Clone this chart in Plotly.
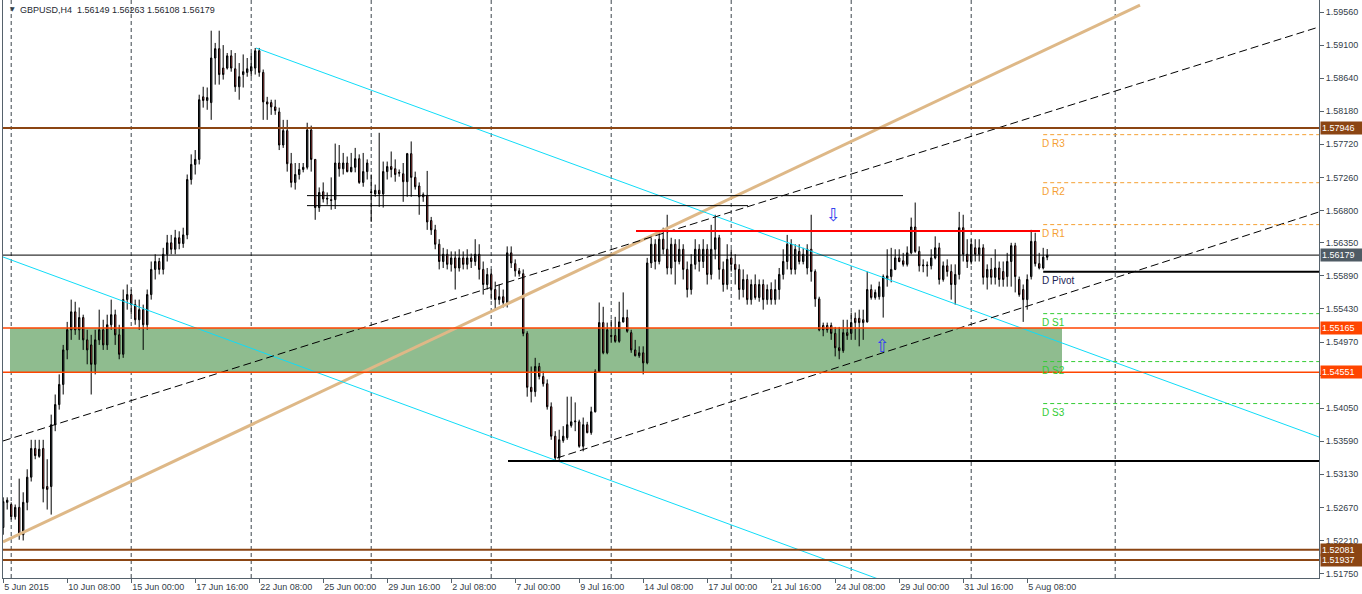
import plotly.graph_objects as go

# ---------------- DATA (GBPUSD H4, bar index 0 = 5 Jun 2015 16:00) ----------------
opens = [
 1.5239,1.5274,1.5271,1.5254,1.5267,1.5229,1.5274,1.5309,1.5349,1.5338,
 1.5349,1.5296,1.5296,1.5382,1.5410,1.5438,1.5486,1.5514,1.5539,1.5514,
 1.5531,1.5500,1.5493,1.5466,1.5500,1.5514,1.5493,1.5521,1.5535,1.5507,
 1.5480,1.5556,1.5563,1.5549,1.5528,1.5542,1.5521,1.5563,1.5598,1.5609,
 1.5598,1.5619,1.5635,1.5626,1.5642,1.5634,1.5646,1.5723,1.5744,1.5751,
 1.5838,1.5833,1.5830,1.5892,1.5905,1.5878,1.5878,1.5895,1.5877,1.5852,
 1.5869,1.5872,1.5874,1.5878,1.5902,1.5872,1.5831,1.5830,1.5824,1.5817,
 1.5771,1.5791,1.5745,1.5719,1.5730,1.5737,1.5740,1.5792,1.5751,1.5684,
 1.5706,1.5697,1.5695,1.5695,1.5746,1.5738,1.5746,1.5734,1.5740,1.5752,
 1.5719,1.5734,1.5706,1.5703,1.5708,1.5703,1.5734,1.5741,1.5738,1.5733,
 1.5731,1.5720,1.5759,1.5726,1.5714,1.5702,1.5701,1.5666,1.5653,1.5633,
 1.5609,1.5619,1.5605,1.5614,1.5600,1.5614,1.5605,1.5614,1.5609,1.5619,
 1.5598,1.5577,1.5591,1.5570,1.5556,1.5560,1.5552,1.5621,1.5606,1.5596,
 1.5592,1.5509,1.5434,1.5428,1.5463,1.5449,1.5439,1.5407,1.5366,1.5336,
 1.5360,1.5364,1.5381,1.5386,1.5386,1.5352,1.5382,1.5371,1.5400,1.5456,
 1.5524,1.5482,1.5506,1.5506,1.5498,1.5525,1.5531,1.5510,1.5486,1.5478,
 1.5482,1.5468,1.5607,1.5633,1.5609,1.5640,1.5626,1.5600,1.5633,1.5609,
 1.5626,1.5598,1.5570,1.5605,1.5626,1.5609,1.5626,1.5591,1.5626,1.5642,
 1.5598,1.5577,1.5614,1.5605,1.5598,1.5570,1.5584,1.5556,1.5577,1.5559,
 1.5577,1.5556,1.5570,1.5556,1.5570,1.5591,1.5609,1.5633,1.5598,1.5623,
 1.5609,1.5600,1.5626,1.5595,1.5557,1.5520,1.5520,1.5520,1.5509,1.5489,
 1.5485,1.5510,1.5509,1.5530,1.5530,1.5528,1.5525,1.5570,1.5559,1.5560,
 1.5560,1.5585,1.5588,1.5598,1.5614,1.5610,1.5605,1.5621,1.5657,1.5623,
 1.5603,1.5603,1.5603,1.5614,1.5628,1.5584,1.5603,1.5595,1.5577,1.5591,
 1.5656,1.5619,1.5609,1.5628,1.5619,1.5628,1.5587,1.5598,1.5587,1.5600,
 1.5595,1.5588,1.5609,1.5631,1.5584,1.5570,1.5556,1.5588,1.5637,1.5606,
 1.5600,1.56149]
highs = [
 1.5281,1.5281,1.5274,1.5271,1.5307,1.5288,1.5320,1.5361,1.5361,1.5361,
 1.5361,1.5334,1.5396,1.5424,1.5452,1.5493,1.5525,1.5556,1.5553,1.5545,
 1.5535,1.5514,1.5507,1.5514,1.5542,1.5528,1.5535,1.5556,1.5542,1.5521,
 1.5570,1.5577,1.5570,1.5556,1.5556,1.5549,1.5570,1.5609,1.5619,1.5614,
 1.5628,1.5646,1.5646,1.5653,1.5651,1.5656,1.5730,1.5758,1.5764,1.5841,
 1.5852,1.5851,1.5930,1.5913,1.5930,1.5910,1.5899,1.5903,1.5899,1.5885,
 1.5897,1.5892,1.5899,1.5906,1.5906,1.5876,1.5838,1.5834,1.5834,1.5823,
 1.5806,1.5806,1.5760,1.5746,1.5746,1.5746,1.5802,1.5798,1.5751,1.5712,
 1.5719,1.5705,1.5726,1.5773,1.5771,1.5760,1.5755,1.5760,1.5767,1.5758,
 1.5760,1.5751,1.5730,1.5716,1.5788,1.5748,1.5748,1.5762,1.5751,1.5737,
 1.5746,1.5760,1.5776,1.5734,1.5719,1.5705,1.5735,1.5671,1.5660,1.5640,
 1.5628,1.5626,1.5623,1.5623,1.5626,1.5623,1.5626,1.5620,1.5640,1.5633,
 1.5609,1.5600,1.5598,1.5581,1.5577,1.5570,1.5630,1.5630,1.5612,1.5600,
 1.5598,1.5512,1.5463,1.5475,1.5468,1.5456,1.5445,1.5413,1.5373,1.5375,
 1.5380,1.5421,1.5421,1.5413,1.5389,1.5392,1.5386,1.5407,1.5459,1.5552,
 1.5546,1.5524,1.5528,1.5532,1.5553,1.5566,1.5542,1.5514,1.5500,1.5491,
 1.5491,1.5614,1.5642,1.5640,1.5651,1.5656,1.5674,1.5642,1.5640,1.5640,
 1.5633,1.5609,1.5619,1.5640,1.5633,1.5640,1.5633,1.5660,1.5674,1.5646,
 1.5609,1.5633,1.5626,1.5619,1.5605,1.5598,1.5591,1.5584,1.5591,1.5584,
 1.5584,1.5577,1.5580,1.5584,1.5600,1.5626,1.5646,1.5640,1.5633,1.5633,
 1.5628,1.5633,1.5674,1.5598,1.5560,1.5524,1.5524,1.5524,1.5518,1.5518,
 1.5528,1.5528,1.5538,1.5538,1.5542,1.5542,1.5595,1.5577,1.5570,1.5581,
 1.5591,1.5626,1.5628,1.5626,1.5626,1.5621,1.5630,1.5670,1.5691,1.5630,
 1.5612,1.5609,1.5626,1.5644,1.5635,1.5609,1.5612,1.5605,1.5605,1.5678,
 1.5674,1.5640,1.5640,1.5640,1.5640,1.5633,1.5605,1.5614,1.5626,1.5609,
 1.5609,1.5621,1.5635,1.5635,1.5588,1.5577,1.5591,1.5653,1.5649,1.5621,
 1.5628,1.56263]
lows = [
 1.5229,1.5264,1.5250,1.5250,1.5222,1.5221,1.5263,1.5303,1.5334,1.5336,
 1.5274,1.5264,1.5257,1.5373,1.5403,1.5424,1.5473,1.5500,1.5507,1.5500,
 1.5486,1.5466,1.5424,1.5452,1.5493,1.5486,1.5486,1.5514,1.5493,1.5473,
 1.5475,1.5542,1.5535,1.5521,1.5514,1.5486,1.5514,1.5556,1.5584,1.5591,
 1.5591,1.5609,1.5619,1.5619,1.5626,1.5628,1.5640,1.5716,1.5730,1.5744,
 1.5823,1.5820,1.5806,1.5855,1.5855,1.5862,1.5876,1.5873,1.5845,1.5834,
 1.5851,1.5866,1.5866,1.5869,1.5866,1.5806,1.5806,1.5813,1.5813,1.5764,
 1.5767,1.5734,1.5712,1.5709,1.5723,1.5733,1.5737,1.5734,1.5667,1.5678,
 1.5691,1.5688,1.5681,1.5682,1.5727,1.5730,1.5733,1.5733,1.5733,1.5717,
 1.5713,1.5723,1.5664,1.5699,1.5685,1.5684,1.5723,1.5726,1.5720,1.5727,
 1.5692,1.5699,1.5699,1.5709,1.5674,1.5692,1.5653,1.5646,1.5626,1.5598,
 1.5600,1.5598,1.5595,1.5570,1.5595,1.5598,1.5598,1.5600,1.5603,1.5584,
 1.5563,1.5570,1.5556,1.5542,1.5549,1.5545,1.5545,1.5600,1.5588,1.5588,
 1.5505,1.5421,1.5413,1.5421,1.5445,1.5435,1.5403,1.5361,1.5332,1.5331,
 1.5357,1.5361,1.5378,1.5373,1.5350,1.5345,1.5370,1.5368,1.5399,1.5455,
 1.5480,1.5480,1.5496,1.5496,1.5496,1.5524,1.5510,1.5482,1.5477,1.5475,
 1.5452,1.5466,1.5600,1.5598,1.5605,1.5619,1.5591,1.5591,1.5577,1.5605,
 1.5584,1.5559,1.5563,1.5598,1.5595,1.5600,1.5577,1.5584,1.5612,1.5584,
 1.5567,1.5570,1.5595,1.5577,1.5556,1.5559,1.5549,1.5549,1.5556,1.5553,
 1.5542,1.5549,1.5549,1.5549,1.5556,1.5584,1.5598,1.5591,1.5591,1.5605,
 1.5605,1.5591,1.5581,1.5546,1.5512,1.5505,1.5510,1.5500,1.5477,1.5473,
 1.5482,1.5500,1.5500,1.5500,1.5491,1.5500,1.5524,1.5556,1.5556,1.5556,
 1.5531,1.5574,1.5580,1.5597,1.5608,1.5602,1.5602,1.5619,1.5621,1.5595,
 1.5594,1.5588,1.5598,1.5612,1.5577,1.5581,1.5588,1.5556,1.5549,1.5584,
 1.5609,1.5600,1.5605,1.5609,1.5609,1.5577,1.5570,1.5577,1.5577,1.5574,
 1.5574,1.5574,1.5574,1.5566,1.5560,1.5525,1.5542,1.5584,1.5602,1.5598,
 1.5598,1.56108]
closes = [
 1.5275,1.5277,1.5254,1.5267,1.5229,1.5274,1.5309,1.5349,1.5339,1.5348,
 1.5293,1.5292,1.5382,1.5410,1.5438,1.5486,1.5514,1.5539,1.5514,1.5531,
 1.5500,1.5486,1.5466,1.5500,1.5514,1.5493,1.5521,1.5535,1.5507,1.5480,
 1.5556,1.5563,1.5549,1.5528,1.5542,1.5521,1.5563,1.5598,1.5609,1.5598,
 1.5619,1.5635,1.5626,1.5642,1.5634,1.5646,1.5723,1.5744,1.5751,1.5834,
 1.5833,1.5837,1.5892,1.5905,1.5869,1.5869,1.5895,1.5878,1.5852,1.5866,
 1.5873,1.5877,1.5880,1.5902,1.5872,1.5831,1.5828,1.5824,1.5819,1.5771,
 1.5791,1.5745,1.5719,1.5730,1.5737,1.5740,1.5792,1.5751,1.5684,1.5705,
 1.5696,1.5696,1.5694,1.5746,1.5738,1.5746,1.5734,1.5740,1.5752,1.5719,
 1.5734,1.5746,1.5705,1.5708,1.5703,1.5734,1.5741,1.5737,1.5730,1.5732,
 1.5720,1.5759,1.5726,1.5713,1.5699,1.5699,1.5664,1.5653,1.5633,1.5609,
 1.5619,1.5605,1.5614,1.5600,1.5614,1.5605,1.5614,1.5609,1.5619,1.5598,
 1.5577,1.5591,1.5570,1.5556,1.5560,1.5552,1.5621,1.5607,1.5596,1.5592,
 1.5509,1.5434,1.5428,1.5463,1.5449,1.5439,1.5407,1.5366,1.5336,1.5361,
 1.5366,1.5382,1.5386,1.5387,1.5352,1.5382,1.5371,1.5400,1.5456,1.5524,
 1.5482,1.5514,1.5505,1.5498,1.5525,1.5531,1.5512,1.5486,1.5478,1.5482,
 1.5468,1.5607,1.5633,1.5609,1.5640,1.5626,1.5600,1.5633,1.5609,1.5626,
 1.5598,1.5570,1.5605,1.5626,1.5609,1.5626,1.5591,1.5626,1.5642,1.5598,
 1.5577,1.5612,1.5605,1.5598,1.5570,1.5584,1.5556,1.5577,1.5559,1.5577,
 1.5556,1.5570,1.5556,1.5570,1.5591,1.5609,1.5633,1.5598,1.5626,1.5609,
 1.5619,1.5626,1.5595,1.5557,1.5514,1.5514,1.5514,1.5509,1.5489,1.5485,
 1.5510,1.5506,1.5524,1.5524,1.5524,1.5524,1.5570,1.5559,1.5566,1.5574,
 1.5588,1.5589,1.5598,1.5614,1.5609,1.5605,1.5621,1.5657,1.5623,1.5603,
 1.5604,1.5604,1.5614,1.5628,1.5584,1.5603,1.5595,1.5577,1.5591,1.5656,
 1.5619,1.5609,1.5633,1.5619,1.5628,1.5587,1.5598,1.5587,1.5600,1.5584,
 1.5584,1.5609,1.5631,1.5588,1.5563,1.5556,1.5584,1.5637,1.5606,1.5600,
 1.5615,1.56179]
bars = list(range(len(opens)))

x_tick_bars = [0, 16, 32, 48, 64, 80, 96, 112, 128, 144, 160, 176, 192, 208, 224, 240, 256]
x_tick_text = ["5 Jun 2015", "10 Jun 08:00", "15 Jun 00:00", "17 Jun 16:00", "22 Jun 08:00",
               "25 Jun 00:00", "29 Jun 16:00", "2 Jul 08:00", "7 Jul 00:00", "9 Jul 16:00",
               "14 Jul 08:00", "17 Jul 00:00", "21 Jul 16:00", "24 Jul 08:00", "29 Jul 00:00",
               "31 Jul 16:00", "5 Aug 08:00"]
grid_bars = [2, 32, 62, 92, 122, 152, 182, 212, 242, 278]
y_tick_vals = [1.51750, 1.52210, 1.52670, 1.53130, 1.53590, 1.54050, 1.54510, 1.54970, 1.55430,
               1.55890, 1.56350, 1.56800, 1.57260, 1.57720, 1.58180, 1.58640, 1.59100, 1.59560]
y_tick_text = ["%.5f" % v for v in y_tick_vals]

title_text = "GBPUSD,H4  1.56149 1.56263 1.56108 1.56179"

brown_levels = [1.57946, 1.52081, 1.51937]
zone_levels = [1.55165, 1.54551]
zone_span = [1.7, 264.7]
bid_price = 1.56179
red_level = 1.56515
red_span = [158.2, 259.2]
support_level = 1.53316
support_start = 126.2
flat_lines = [(1.57006, 75.95, 224.95), (1.56867, 75.95, 186.2)]

pivot_names = ["D R3", "D R2", "D R1", "D Pivot", "D S1", "D S2", "D S3"]
pivot_values = [1.57854, 1.57186, 1.56603, 1.55949, 1.55365, 1.54698, 1.54114]
pivot_start = 260.0
pivot_label_bar = 259.2

tan_line = [(-0.05, 1.52189), (284.2, 1.59657)]
cyan_upper = [(63.2, 1.59059), (328.95, 1.53649)]
cyan_lower = [(-0.05, 1.56153), (224.2, 1.51563)]
dash_upper = [(-0.05, 1.53594), (328.95, 1.59352)]
dash_lower = [(138.45, 1.53357), (328.95, 1.56779)]

arrows = [("\u21e9", 207.45, 1.56745), ("\u21e7", 219.7, 1.54915)]

price_tags = [(1.57946, "#8b4513"), (1.56179, "#4f5b64"), (1.55165, "#ff4500"),
              (1.54551, "#ff4500"), (1.52081, "#8b4513"), (1.51937, "#8b4513")]

# ---------------- FIGURE ----------------
X_RANGE = [-0.05, 328.95]
Y_RANGE = [1.51688, 1.59727]
FONT = "Liberation Sans, Arial, sans-serif"
AXIS_COLOR = "#56626c"
TEXT_COLOR = "#333d47"

fig = go.Figure()
fig.add_trace(go.Candlestick(
    x=bars, open=opens, high=highs, low=lows, close=closes,
    increasing=dict(line=dict(color="#000000", width=1), fillcolor="#37414a"),
    decreasing=dict(line=dict(color="#000000", width=1), fillcolor="#e04848"),
    whiskerwidth=0, hoverinfo="skip", showlegend=False,
))

shapes = []
# green zone (background)
shapes.append(dict(type="rect", xref="x", yref="y", x0=zone_span[0], x1=zone_span[1],
                   y0=zone_levels[1], y1=zone_levels[0], fillcolor="#8fbc8f",
                   line=dict(width=0), layer="below"))
# weekly vertical grid
for b in grid_bars:
    shapes.append(dict(type="line", xref="x", yref="paper", x0=b, x1=b, y0=0, y1=1,
                       line=dict(color="#3c444c", width=1, dash="4px,3px"), layer="below"))


def seg(p0, p1, color, width, dash="solid"):
    shapes.append(dict(type="line", xref="x", yref="y", x0=p0[0], y0=p0[1], x1=p1[0], y1=p1[1],
                       line=dict(color=color, width=width, dash=dash)))


def hline(y, color, width, x0=None, x1=None, dash="solid"):
    if x0 is None:
        shapes.append(dict(type="line", xref="paper", yref="y", x0=0, x1=1, y0=y, y1=y,
                           line=dict(color=color, width=width, dash=dash)))
    else:
        shapes.append(dict(type="line", xref="x", yref="y", x0=x0, x1=x1, y0=y, y1=y,
                           line=dict(color=color, width=width, dash=dash)))


seg(*tan_line, "#deb887", 3)
seg(*cyan_upper, "#10dcf8", 1)
seg(*cyan_lower, "#10dcf8", 1)
seg(*dash_upper, "#000000", 1, "8px,4px")
seg(*dash_lower, "#000000", 1, "8px,4px")

for lv in brown_levels:
    hline(lv, "#8b4513", 2)
for lv in zone_levels:
    hline(lv, "#ff4500", 1.5)
hline(bid_price, "#000000", 1)
for lv, a, b in flat_lines:
    hline(lv, "#000000", 1, a, b)
hline(support_level, "#000000", 2, support_start, X_RANGE[1])
hline(red_level, "#ff0000", 2, red_span[0], red_span[1])

pivot_colors = []
for name, lv in zip(pivot_names, pivot_values):
    if name.startswith("D R"):
        col, lab, dash, w = "#f5a032", "#f5a032", "4px,3px", 1
    elif name.startswith("D S"):
        col, lab, dash, w = "#33cc33", "#33cc33", "4px,3px", 1
    else:
        col, lab, dash, w = "#000000", "#1c2456", "solid", 2
    hline(lv, col, w, pivot_start, X_RANGE[1], dash)
    pivot_colors.append(lab)

annotations = []
for name, lv, col in zip(pivot_names, pivot_values, pivot_colors):
    annotations.append(dict(x=pivot_label_bar, y=lv, xref="x", yref="y", text=name,
                            showarrow=False, xanchor="left", yanchor="top", yshift=-1,
                            font=dict(family=FONT, size=10, color=col)))
for sym, bx, py in arrows:
    annotations.append(dict(x=bx, y=py, xref="x", yref="y", text=sym, showarrow=False,
                            font=dict(family="DejaVu Sans", size=18, color="#3344ee")))
for lv, bg in price_tags:
    annotations.append(dict(x=1, y=lv, xref="paper", yref="y", text="%.5f" % lv,
                            showarrow=False, xanchor="left", yanchor="middle", xshift=1,
                            bgcolor=bg, borderpad=1, width=40, align="left",
                            font=dict(family=FONT, size=9, color="#ffffff")))
annotations.append(dict(x=0, y=1, xref="paper", yref="paper", text="\u25bc", showarrow=False,
                        xanchor="left", yanchor="top", xshift=5, yshift=-3,
                        font=dict(family="DejaVu Sans", size=6, color="#333d47")))
annotations.append(dict(x=0, y=1, xref="paper", yref="paper", text=title_text, showarrow=False,
                        xanchor="left", yanchor="top", xshift=15, yshift=-3,
                        font=dict(family=FONT, size=9, color="#1e2830")))

fig.update_layout(
    width=1362, height=594,
    margin=dict(l=3, r=43, t=0, b=16),
    paper_bgcolor="#ffffff", plot_bgcolor="#ffffff",
    showlegend=False, hovermode=False, boxgap=0.5,
    shapes=shapes, annotations=annotations,
    xaxis=dict(range=X_RANGE, type="linear", rangeslider=dict(visible=False),
               showgrid=False, zeroline=False, showline=True, linecolor=AXIS_COLOR, linewidth=1,
               tickmode="array", tickvals=x_tick_bars, ticktext=x_tick_text,
               ticks="outside", ticklen=4, tickcolor=AXIS_COLOR,
               ticklabelposition="outside right",
               tickfont=dict(family=FONT, size=9, color=TEXT_COLOR)),
    yaxis=dict(range=Y_RANGE, side="right", showgrid=False, zeroline=False,
               showline=True, mirror=True, linecolor=AXIS_COLOR, linewidth=1,
               tickmode="array", tickvals=y_tick_vals, ticktext=y_tick_text,
               ticks="outside", ticklen=4, tickcolor=AXIS_COLOR,
               tickfont=dict(family=FONT, size=9, color=TEXT_COLOR)),
)

fig.write_html("out.html", config={"displayModeBar": False, "responsive": False},
               post_script="document.body.style.margin='0';document.body.style.overflow='hidden';")
